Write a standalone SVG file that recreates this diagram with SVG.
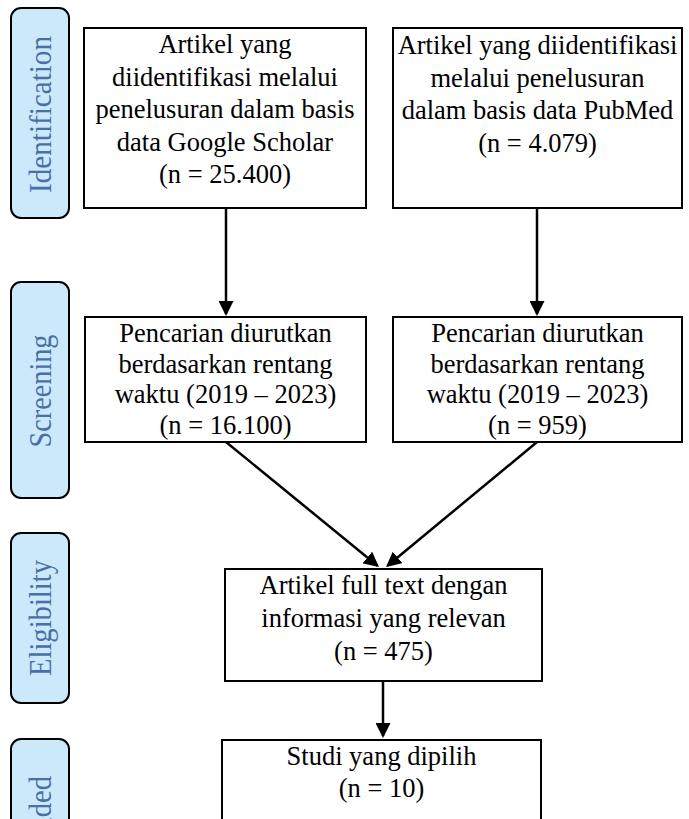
<svg xmlns="http://www.w3.org/2000/svg" width="689" height="819" viewBox="0 0 689 819">
<style>
.stage rect{fill:#cce9fc;stroke:#000;stroke-width:2}
.stage text{font-family:"Liberation Serif","Times New Roman",serif;font-size:31px;fill:#4a6fa5;text-anchor:middle}
.node rect{fill:#fff;stroke:#000;stroke-width:2}
.node text{font-family:"Liberation Serif","Times New Roman",serif;font-size:26.5px;fill:#000;text-anchor:middle}
.conn line{stroke:#000;stroke-width:2.5}
</style>
<defs>
<marker id="ah" markerUnits="userSpaceOnUse" markerWidth="15" markerHeight="15" refX="13" refY="7.5" orient="auto">
<path d="M0,0 L15,7.5 L0,15 z" fill="#000"/>
</marker>
</defs>
<rect width="689" height="819" fill="#fff"/>
<g id="stage-identification" class="stage">
<rect x="11" y="8" width="58" height="210" rx="10"/>
<text transform="translate(51,114.5) rotate(-90)" textLength="157" lengthAdjust="spacingAndGlyphs">Identification</text>
</g>
<g id="stage-screening" class="stage">
<rect x="11" y="282" width="58" height="216" rx="10"/>
<text transform="translate(51,391) rotate(-90)" textLength="113" lengthAdjust="spacingAndGlyphs">Screening</text>
</g>
<g id="stage-eligibility" class="stage">
<rect x="11" y="533" width="58" height="170" rx="10"/>
<text transform="translate(51,618) rotate(-90)" textLength="116" lengthAdjust="spacingAndGlyphs">Eligibility</text>
</g>
<g id="stage-included" class="stage">
<rect x="11" y="739" width="58" height="174" rx="10"/>
<text transform="translate(51,826) rotate(-90)" textLength="100" lengthAdjust="spacingAndGlyphs">Included</text>
</g>
<g id="node-scholar" class="node">
<rect x="84" y="28" width="282" height="180"/>
<text x="225" y="53">Artikel yang</text>
<text x="225" y="85.5">diidentifikasi melalui</text>
<text x="225" y="118">penelusuran dalam basis</text>
<text x="225" y="150.5">data Google Scholar</text>
<text x="225" y="183">(n = 25.400)</text>
</g>
<g id="node-pubmed" class="node">
<rect x="393" y="28" width="289" height="180"/>
<text x="537.5" y="54">Artikel yang diidentifikasi</text>
<text x="537.5" y="86.5">melalui penelusuran</text>
<text x="537.5" y="119">dalam basis data PubMed</text>
<text x="537.5" y="151.5">(n = 4.079)</text>
</g>
<g id="node-screen-scholar" class="node">
<rect x="85" y="317" width="281" height="125"/>
<text x="225.5" y="342">Pencarian diurutkan</text>
<text x="225.5" y="372.5">berdasarkan rentang</text>
<text x="225.5" y="403">waktu (2019 – 2023)</text>
<text x="225.5" y="433.5">(n = 16.100)</text>
</g>
<g id="node-screen-pubmed" class="node">
<rect x="393" y="317" width="289" height="125"/>
<text x="537.5" y="342">Pencarian diurutkan</text>
<text x="537.5" y="372.5">berdasarkan rentang</text>
<text x="537.5" y="403">waktu (2019 – 2023)</text>
<text x="537.5" y="433.5">(n = 959)</text>
</g>
<g id="node-eligibility" class="node">
<rect x="225" y="569" width="317" height="112"/>
<text x="383.5" y="594">Artikel full text dengan</text>
<text x="383.5" y="627">informasi yang relevan</text>
<text x="383.5" y="660">(n = 475)</text>
</g>
<g id="node-included" class="node">
<rect x="222" y="740" width="319" height="120"/>
<text x="381.5" y="765">Studi yang dipilih</text>
<text x="381.5" y="797">(n = 10)</text>
</g>
<g id="connectors" class="conn">
<line x1="226" y1="208" x2="226" y2="314" marker-end="url(#ah)"/>
<line x1="537" y1="208" x2="537" y2="314" marker-end="url(#ah)"/>
<line x1="226" y1="442" x2="377.45" y2="565.73" marker-end="url(#ah)"/>
<line x1="537" y1="442" x2="387.54" y2="565.72" marker-end="url(#ah)"/>
<line x1="383" y1="681" x2="383" y2="736" marker-end="url(#ah)"/>
</g>
</svg>
